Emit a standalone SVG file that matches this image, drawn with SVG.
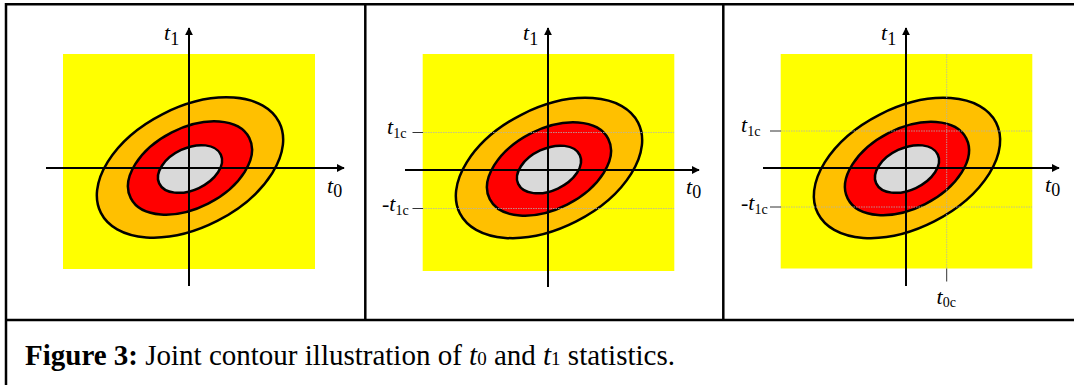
<svg xmlns="http://www.w3.org/2000/svg" width="1074" height="385" viewBox="0 0 1074 385">
<defs>
<marker id="ah" viewBox="0 0 10 10" refX="9" refY="5" markerWidth="4" markerHeight="4" markerUnits="strokeWidth" orient="auto">
<path d="M0,0 L10,5 L0,10 Z" fill="#000"/>
</marker>
<style>
.bg{fill:#fff}
.border{stroke:#000;stroke-width:2.5;fill:none}
.yel{fill:#ffff00}
.e1{fill:#ffc000;stroke:#000;stroke-width:2.5}
.e2{fill:#ff0000;stroke:#000;stroke-width:2.5}
.e3{fill:#d9d9d9;stroke:#000;stroke-width:2.5}
.axis{stroke:#000;stroke-width:2;fill:none}
.dot{stroke:#b0b0b0;stroke-width:0.8;stroke-dasharray:1.5 1;fill:none}
.tick{stroke:#333;stroke-width:1;fill:none}
.lbl{font-family:"Liberation Serif","Times New Roman",serif;font-size:22px;fill:#000}
.it{font-style:italic}
.sub{font-size:18px}
.subs{font-size:14px}
.cap{font-family:"Liberation Serif","Times New Roman",serif;font-size:29px;fill:#000}
</style>
</defs>
<rect class="bg" x="0" y="0" width="1074" height="385"/>
<g id="table">
<line class="border" x1="6" y1="4.3" x2="1074" y2="4.3"/>
<line class="border" x1="6" y1="3" x2="6" y2="385"/>
<line class="border" x1="6" y1="320" x2="1074" y2="320"/>
<line class="border" x1="365.3" y1="4" x2="365.3" y2="320"/>
<line class="border" x1="723.3" y1="4" x2="723.3" y2="320"/>
</g>
<g id="panel1">
<rect class="yel" x="63" y="54" width="252" height="215"/>
<ellipse class="e1" cx="190" cy="167.5" rx="100" ry="60" transform="rotate(-27 190 167.5)"/>
<ellipse class="e2" cx="190" cy="168" rx="66.5" ry="40" transform="rotate(-27 190 168)"/>
<ellipse class="e3" cx="190" cy="169" rx="34" ry="21" transform="rotate(-25 190 169)"/>
</g>
<g id="panel2">
<rect class="yel" x="422.7" y="54" width="251.6" height="217"/>
<ellipse class="e1" cx="549" cy="168" rx="100" ry="60" transform="rotate(-27 549 168)"/>
<ellipse class="e2" cx="549" cy="169" rx="66.5" ry="40" transform="rotate(-27 549 169)"/>
<ellipse class="e3" cx="549" cy="169.5" rx="34" ry="21" transform="rotate(-25 549 169.5)"/>
<line class="dot" x1="423" y1="132.5" x2="674" y2="132.5"/>
<line class="dot" x1="423" y1="208.5" x2="674" y2="208.5"/>
<line class="tick" x1="412.5" y1="132.5" x2="423" y2="132.5"/>
<line class="tick" x1="412.5" y1="208.5" x2="423" y2="208.5"/>
<text class="lbl it" x="387" y="133.5">t<tspan class="subs" font-style="normal" dy="4">1c</tspan></text>
<text class="lbl" x="382" y="211">-<tspan class="it">t</tspan><tspan class="subs" dy="4">1c</tspan></text>
</g>
<g id="panel3">
<rect class="yel" x="780.7" y="54" width="251.6" height="214.5"/>
<ellipse class="e1" cx="907" cy="168" rx="100" ry="60" transform="rotate(-27 907 168)"/>
<ellipse class="e2" cx="907" cy="168.5" rx="66.5" ry="40" transform="rotate(-27 907 168.5)"/>
<ellipse class="e3" cx="907" cy="169" rx="34" ry="21" transform="rotate(-25 907 169)"/>
<line class="dot" x1="781" y1="131" x2="1032" y2="131"/>
<line class="dot" x1="781" y1="207" x2="1032" y2="207"/>
<line class="dot" x1="946.7" y1="54" x2="946.7" y2="268.5"/>
<line class="tick" x1="770" y1="131" x2="781" y2="131"/>
<line class="tick" x1="770" y1="207" x2="781" y2="207"/>
<line class="tick" x1="946.7" y1="268.5" x2="946.7" y2="281.5"/>
<text class="lbl it" x="741" y="132">t<tspan class="subs" font-style="normal" dy="4">1c</tspan></text>
<text class="lbl" x="741" y="210">-<tspan class="it">t</tspan><tspan class="subs" dy="4">1c</tspan></text>
<text class="lbl it" x="936.5" y="303.5">t<tspan class="subs" font-style="normal" dy="3">0c</tspan></text>
</g>
<g id="connectors">
<line class="axis" x1="189" y1="286" x2="189" y2="28" marker-end="url(#ah)"/>
<line class="axis" x1="46" y1="168" x2="344" y2="168" marker-end="url(#ah)"/>
<line class="axis" x1="548" y1="287" x2="548" y2="28" marker-end="url(#ah)"/>
<line class="axis" x1="405" y1="170" x2="699" y2="170" marker-end="url(#ah)"/>
<line class="axis" x1="906" y1="286" x2="906" y2="28" marker-end="url(#ah)"/>
<line class="axis" x1="763" y1="168" x2="1059" y2="168" marker-end="url(#ah)"/>
</g>
<g id="axis-labels">
<text class="lbl it" x="164" y="40">t<tspan class="sub" font-style="normal" dy="5">1</tspan></text>
<text class="lbl it" x="327" y="193">t<tspan class="sub" font-style="normal" dy="4">0</tspan></text>
<text class="lbl it" x="523" y="40">t<tspan class="sub" font-style="normal" dy="5">1</tspan></text>
<text class="lbl it" x="686" y="194">t<tspan class="sub" font-style="normal" dy="4">0</tspan></text>
<text class="lbl it" x="881" y="40">t<tspan class="sub" font-style="normal" dy="5">1</tspan></text>
<text class="lbl it" x="1045" y="192">t<tspan class="sub" font-style="normal" dy="4">0</tspan></text>
</g>
<g id="caption">
<text class="cap" x="25" y="364.5"><tspan font-weight="bold">Figure 3:</tspan> Joint contour illustration of <tspan font-style="italic">t</tspan><tspan font-size="19">0</tspan> and <tspan font-style="italic">t</tspan><tspan font-size="19">1</tspan> statistics.</text>
</g>
</svg>
